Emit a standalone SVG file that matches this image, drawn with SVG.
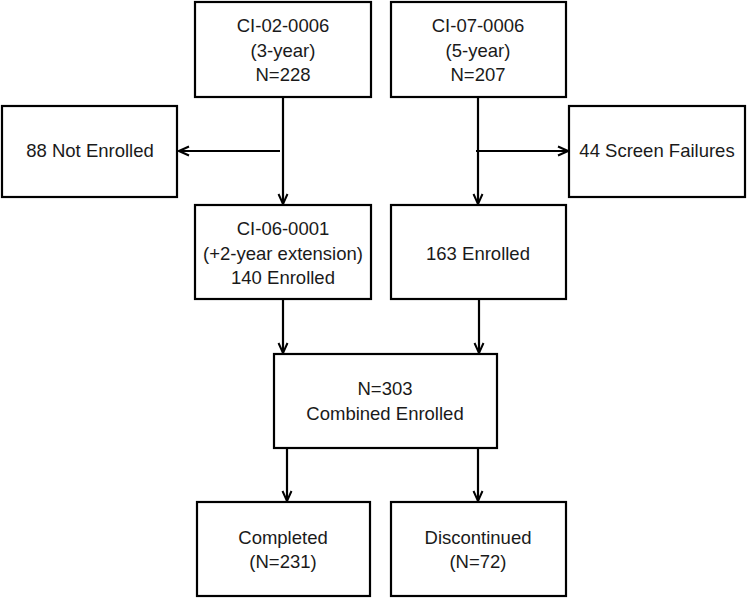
<svg xmlns="http://www.w3.org/2000/svg" width="747" height="599" viewBox="0 0 747 599">
<defs>
<marker id="arr" viewBox="0 0 12 12" refX="11" refY="6" markerWidth="12" markerHeight="12" markerUnits="userSpaceOnUse" orient="auto">
<polyline points="1,1.5 11,6 1,10.5" fill="none" stroke="#000" stroke-width="2"/>
</marker>
<style>
rect{fill:#fff;stroke:#000;stroke-width:2.2}
text{font-family:"Liberation Sans",Arial,sans-serif;font-size:18.5px;fill:#1a1a1a;text-anchor:middle}
.c line{stroke:#000;stroke-width:2.2}
</style>
</defs>
<rect x="0" y="0" width="747" height="599" style="stroke:none"/>
<g class="c" id="connectors">
<line x1="283" y1="97" x2="283" y2="204" marker-end="url(#arr)"/>
<line x1="280" y1="151" x2="179" y2="151" marker-end="url(#arr)"/>
<line x1="478" y1="97" x2="478" y2="204" marker-end="url(#arr)"/>
<line x1="476" y1="151" x2="568" y2="151" marker-end="url(#arr)"/>
<line x1="283" y1="299" x2="283" y2="353" marker-end="url(#arr)"/>
<line x1="479" y1="299" x2="479" y2="353" marker-end="url(#arr)"/>
<line x1="287" y1="448" x2="287" y2="501" marker-end="url(#arr)"/>
<line x1="478" y1="448" x2="478" y2="501" marker-end="url(#arr)"/>
</g>
<g id="n1"><rect x="195" y="2" width="176" height="95"/>
<text x="283" y="32">CI-02-0006</text><text x="283" y="57">(3-year)</text><text x="283" y="81">N=228</text></g>
<g id="n2"><rect x="391" y="2" width="175" height="95"/>
<text x="478" y="32">CI-07-0006</text><text x="478" y="57">(5-year)</text><text x="478" y="81">N=207</text></g>
<g id="n3"><rect x="2" y="106" width="175" height="91"/>
<text x="90" y="157">88 Not Enrolled</text></g>
<g id="n4"><rect x="569" y="106" width="176" height="91"/>
<text x="657" y="157">44 Screen Failures</text></g>
<g id="n5"><rect x="195" y="205" width="176" height="94"/>
<text x="283" y="235">CI-06-0001</text><text x="283" y="260">(+2-year extension)</text><text x="283" y="284">140 Enrolled</text></g>
<g id="n6"><rect x="391" y="205" width="175" height="94"/>
<text x="478" y="260">163 Enrolled</text></g>
<g id="n7"><rect x="274" y="354" width="223" height="94"/>
<text x="385" y="395">N=303</text><text x="385" y="420">Combined Enrolled</text></g>
<g id="n8"><rect x="197" y="502" width="173" height="94"/>
<text x="283" y="544">Completed</text><text x="283" y="568">(N=231)</text></g>
<g id="n9"><rect x="391" y="502" width="175" height="94"/>
<text x="478" y="544">Discontinued</text><text x="478" y="568">(N=72)</text></g>
</svg>
